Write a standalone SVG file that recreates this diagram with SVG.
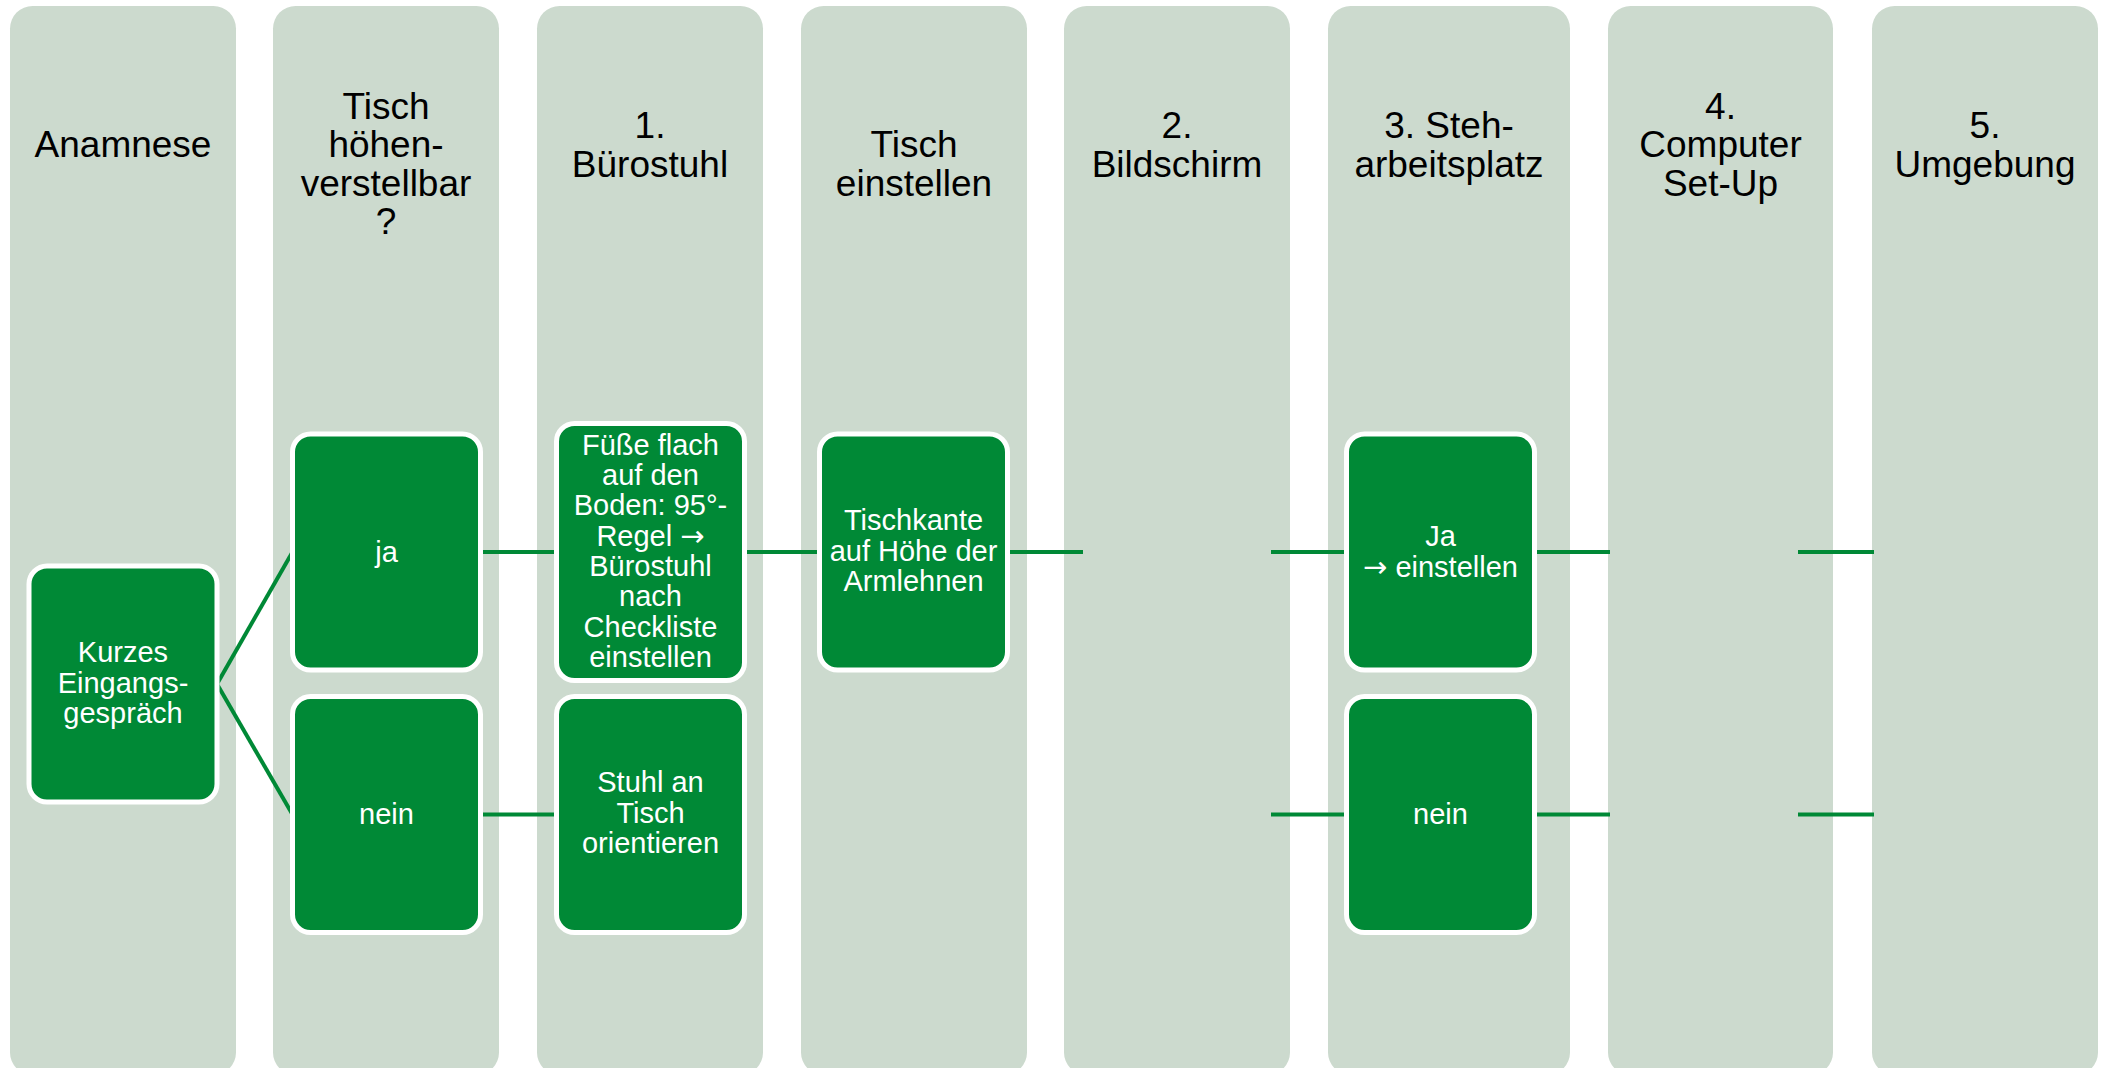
<svg xmlns="http://www.w3.org/2000/svg" width="2103" height="1068" viewBox="0 0 2103 1068">
  <style>
    .lane { fill: #CCDACE; }
    .head { font-family: "Liberation Sans", Arial, sans-serif; font-size: 37px; fill: #000000; text-anchor: middle; }
    .box { fill: #008936; stroke: #FFFFFF; stroke-width: 5; }
    .label { font-family: "Liberation Sans", "DejaVu Sans", Arial, sans-serif; font-size: 29px; fill: #FFFFFF; text-anchor: middle; }
    .arrow { font-family: "DejaVu Sans", sans-serif; }
    .link { stroke: #008936; stroke-width: 4; fill: none; stroke-linecap: butt; }
  </style>
  <rect width="2103" height="1068" fill="#FFFFFF"/>

  <!-- phase columns with their headings -->
  <g id="lanes">
    <g id="lane-anamnese">
      <rect class="lane" x="10" y="6" width="226" height="1069" rx="22.6"/>
      <text class="head" x="123" y="157">Anamnese</text>
    </g>
    <g id="lane-tisch-hoehe">
      <rect class="lane" x="273" y="6" width="226" height="1069" rx="22.6"/>
      <text class="head" x="386" y="118.5">Tisch</text>
      <text class="head" x="386" y="157">höhen-</text>
      <text class="head" x="386" y="195.5">verstellbar</text>
      <text class="head" x="386" y="234">?</text>
    </g>
    <g id="lane-buerostuhl">
      <rect class="lane" x="537" y="6" width="226" height="1069" rx="22.6"/>
      <text class="head" x="650" y="138">1.</text>
      <text class="head" x="650" y="176.5">Bürostuhl</text>
    </g>
    <g id="lane-tisch-einstellen">
      <rect class="lane" x="801" y="6" width="226" height="1069" rx="22.6"/>
      <text class="head" x="914" y="157">Tisch</text>
      <text class="head" x="914" y="195.5">einstellen</text>
    </g>
    <g id="lane-bildschirm">
      <rect class="lane" x="1064" y="6" width="226" height="1069" rx="22.6"/>
      <text class="head" x="1177" y="138">2.</text>
      <text class="head" x="1177" y="176.5">Bildschirm</text>
    </g>
    <g id="lane-steharbeitsplatz">
      <rect class="lane" x="1328" y="6" width="242" height="1069" rx="22.6"/>
      <text class="head" x="1449" y="138">3. Steh-</text>
      <text class="head" x="1449" y="176.5">arbeitsplatz</text>
    </g>
    <g id="lane-computer">
      <rect class="lane" x="1608" y="6" width="225" height="1069" rx="22.6"/>
      <text class="head" x="1720.5" y="118.5">4.</text>
      <text class="head" x="1720.5" y="157">Computer</text>
      <text class="head" x="1720.5" y="195.5">Set-Up</text>
    </g>
    <g id="lane-umgebung">
      <rect class="lane" x="1872" y="6" width="226" height="1069" rx="22.6"/>
      <text class="head" x="1985" y="138">5.</text>
      <text class="head" x="1985" y="176.5">Umgebung</text>
    </g>
  </g>

  <!-- connectors -->
  <g id="connectors">
    <path class="link" d="M217,684 L292.5,552"/>
    <path class="link" d="M217,684 L292.5,814.5"/>
    <path class="link" d="M480.5,552 H556.5"/>
    <path class="link" d="M480.5,814.5 H556.5"/>
    <path class="link" d="M744.5,552 H819.5"/>
    <path class="link" d="M1007.5,552 H1083"/>
    <path class="link" d="M1271,552 H1346.5"/>
    <path class="link" d="M1271,814.5 H1346.5"/>
    <path class="link" d="M1534.5,552 H1610"/>
    <path class="link" d="M1534.5,814.5 H1610"/>
    <path class="link" d="M1798,552 H1874"/>
    <path class="link" d="M1798,814.5 H1874"/>
  </g>

  <!-- process steps -->
  <g id="node-eingangsgespraech">
    <rect class="box" x="29" y="566" width="188" height="236" rx="18"/>
    <text class="label" x="123" y="662">Kurzes</text>
    <text class="label" x="123" y="692.5">Eingangs-</text>
    <text class="label" x="123" y="723">gespräch</text>
  </g>
  <g id="node-ja">
    <rect class="box" x="292.5" y="434" width="188" height="236" rx="18"/>
    <text class="label" x="386.5" y="562">ja</text>
  </g>
  <g id="node-nein">
    <rect class="box" x="292.5" y="696.5" width="188" height="236" rx="18"/>
    <text class="label" x="386.5" y="824">nein</text>
  </g>
  <g id="node-fuesse">
    <rect class="box" x="556.5" y="423.5" width="188" height="257" rx="18"/>
    <text class="label" x="650.5" y="454.8">Füße flach</text>
    <text class="label" x="650.5" y="485.1">auf den</text>
    <text class="label" x="650.5" y="515.4">Boden: 95°-</text>
    <text class="label" x="650.5" y="545.7">Regel <tspan class="arrow">→</tspan></text>
    <text class="label" x="650.5" y="576">Bürostuhl</text>
    <text class="label" x="650.5" y="606.3">nach</text>
    <text class="label" x="650.5" y="636.6">Checkliste</text>
    <text class="label" x="650.5" y="666.9">einstellen</text>
  </g>
  <g id="node-stuhl-an-tisch">
    <rect class="box" x="556.5" y="696.5" width="188" height="236" rx="18"/>
    <text class="label" x="650.5" y="792">Stuhl an</text>
    <text class="label" x="650.5" y="822.5">Tisch</text>
    <text class="label" x="650.5" y="853">orientieren</text>
  </g>
  <g id="node-tischkante">
    <rect class="box" x="819.5" y="434" width="188" height="236" rx="18"/>
    <text class="label" x="913.5" y="530">Tischkante</text>
    <text class="label" x="913.5" y="560.5">auf Höhe der</text>
    <text class="label" x="913.5" y="591">Armlehnen</text>
  </g>
  <g id="node-steh-ja">
    <rect class="box" x="1346.5" y="434" width="188" height="236" rx="18"/>
    <text class="label" x="1440.5" y="546">Ja</text>
    <text class="label" x="1440.5" y="576.5"><tspan class="arrow">→</tspan> einstellen</text>
  </g>
  <g id="node-steh-nein">
    <rect class="box" x="1346.5" y="696.5" width="188" height="236" rx="18"/>
    <text class="label" x="1440.5" y="824">nein</text>
  </g>
</svg>
